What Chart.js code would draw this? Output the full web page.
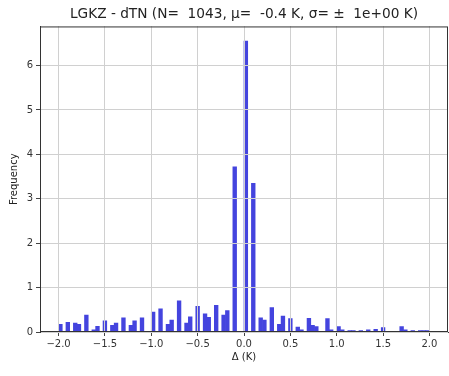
<!DOCTYPE html>
<html>
<head>
<meta charset="utf-8">
<script src="https://cdn.jsdelivr.net/npm/chart.js@4/dist/chart.umd.min.js"></script>
<style>
  html, body { margin: 0; padding: 0; background: #fff; }
  #wrap { width: 449px; height: 376px; }
</style>
</head>
<body>
<div id="wrap"><canvas id="hist"></canvas></div>
<script>
// histogram bins (centres, K) and density values
const binCenters = [-1.98, -1.90, -1.82, -1.78, -1.70, -1.62, -1.58, -1.50, -1.42, -1.38,
  -1.30, -1.22, -1.18, -1.10, -0.98, -0.90, -0.82, -0.78, -0.70, -0.62,
  -0.58, -0.50, -0.42, -0.38, -0.30, -0.22, -0.18, -0.10, 0.02, 0.10,
  0.18, 0.22, 0.30, 0.38, 0.42, 0.50, 0.58, 0.62, 0.70, 0.74,
  0.78, 0.90, 0.94, 1.02, 1.06, 1.14, 1.18, 1.26, 1.34, 1.42,
  1.50, 1.70, 1.74, 1.82, 1.90, 1.94, 1.98];
const frequency = [0.17, 0.22, 0.20, 0.17, 0.38, 0.05, 0.13, 0.25, 0.15, 0.20,
  0.32, 0.15, 0.25, 0.32, 0.45, 0.52, 0.17, 0.27, 0.70, 0.20,
  0.34, 0.58, 0.41, 0.33, 0.60, 0.38, 0.48, 3.72, 6.55, 3.35,
  0.32, 0.27, 0.55, 0.17, 0.36, 0.30, 0.11, 0.05, 0.31, 0.15,
  0.12, 0.30, 0.05, 0.12, 0.05, 0.03, 0.03, 0.03, 0.05, 0.06,
  0.10, 0.12, 0.05, 0.03, 0.03, 0.03, 0.03];
const xTicks = [-2.0, -1.5, -1.0, -0.5, 0.0, 0.5, 1.0, 1.5, 2.0];
const yTicks = [0, 1, 2, 3, 4, 5, 6];

const FONT = 'DejaVu Sans';

// matplotlib draws the grid over the bars and a full frame round the axes
const gridOnTop = {
  id: 'gridOnTop',
  afterDatasetsDraw(chart) {
    const area = chart.chartArea;
    chart.scales.x.drawGrid(area);
    chart.scales.y.drawGrid(area);
    const ctx = chart.ctx;
    ctx.save();
    ctx.strokeStyle = '#333';
    ctx.lineWidth = 1;
    ctx.strokeRect(area.left + 0.5, area.top + 0.5, area.right - area.left - 1, area.bottom - area.top - 1);
    ctx.restore();
  }
};

new Chart(document.getElementById('hist'), {
  type: 'bar',
  data: {
    datasets: [{
      data: binCenters.map((x, i) => ({ x, y: frequency[i] })),
      backgroundColor: 'rgb(68,68,222)',
      borderWidth: 0,
      barPercentage: 1,
      categoryPercentage: 1
    }]
  },
  options: {
    responsive: true,
    maintainAspectRatio: false,
    animation: false,
    layout: { padding: { left: 0, right: 1, top: 0, bottom: 0 } },
    plugins: {
      legend: { display: false },
      tooltip: { enabled: false },
      title: {
        display: true,
        fullSize: false,
        text: 'LGKZ - dTN (N=  1043, \u03bc=  -0.4 K, \u03c3= \u00b1  1e+00 K)',
        color: '#222',
        font: { family: FONT, size: 13.7, weight: 'normal' },
        padding: { top: 6, bottom: 4 }
      }
    },
    scales: {
      x: {
        type: 'linear',
        offset: false,
        min: -2.2,
        max: 2.2,
        afterBuildTicks: s => { s.ticks = xTicks.map(v => ({ value: v })); },
        afterFit: s => { s.height = 44; },
        ticks: {
          color: '#333',
          padding: 2,
          autoSkip: false,
          maxRotation: 0,
          font: { family: FONT, size: 10 },
          callback: v => v.toFixed(1).replace('-', '\u2212')
        },
        grid: { offset: false, color: '#d0d0d0', lineWidth: 1, tickLength: 4, tickColor: '#444' },
        border: { color: '#333' },
        title: {
          display: true,
          text: '\u0394 (K)',
          color: '#222',
          font: { family: FONT, size: 10 },
          padding: { top: 0, bottom: 13 }
        }
      },
      y: {
        min: 0,
        max: 6.88,
        afterBuildTicks: s => { s.ticks = yTicks.map(v => ({ value: v })); },
        afterFit: s => { s.width = 40; },
        ticks: {
          color: '#333',
          padding: 3,
          font: { family: FONT, size: 10 },
          callback: v => String(v)
        },
        grid: { color: '#d0d0d0', lineWidth: 1, tickLength: 4, tickColor: '#444' },
        border: { color: '#333' },
        title: {
          display: true,
          text: 'Frequency',
          color: '#222',
          font: { family: FONT, size: 10 },
          padding: { top: 8, bottom: 0 }
        }
      }
    }
  },
  plugins: [gridOnTop]
});
</script>
</body>
</html>
